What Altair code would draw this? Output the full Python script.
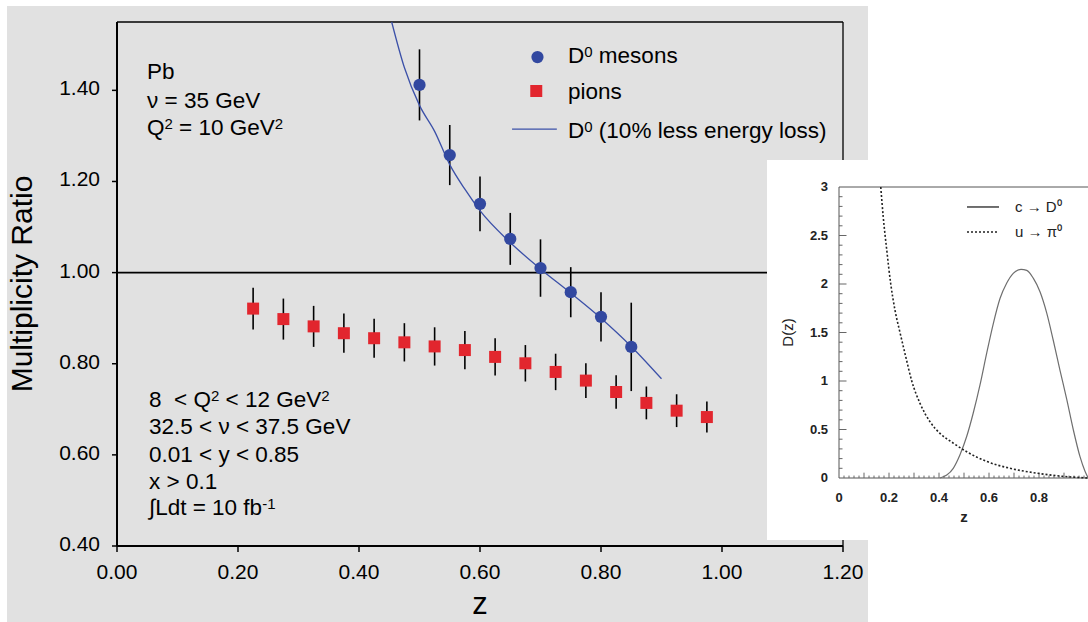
import altair as alt
import pandas as pd

# ---------------- data ----------------
# main panel: D0 mesons
d0_z = [0.50, 0.55, 0.60, 0.65, 0.70, 0.75, 0.80, 0.85]
d0_ratio = [1.412, 1.258, 1.151, 1.074, 1.010, 0.957, 0.903, 0.837]
d0_err = [0.078, 0.066, 0.060, 0.057, 0.063, 0.055, 0.054, 0.097]

# main panel: pions
pion_z = [0.225, 0.275, 0.325, 0.375, 0.425, 0.475, 0.525, 0.575,
          0.625, 0.675, 0.725, 0.775, 0.825, 0.875, 0.925, 0.975]
pion_ratio = [0.921, 0.898, 0.882, 0.867, 0.856, 0.847, 0.838, 0.830,
              0.815, 0.801, 0.782, 0.763, 0.738, 0.714, 0.697, 0.683]
pion_err = [0.046, 0.045, 0.045, 0.043, 0.043, 0.042, 0.042, 0.042,
            0.041, 0.040, 0.040, 0.038, 0.037, 0.036, 0.036, 0.034]

# main panel: D0 curve with 10% less energy loss
eloss_z = [0.454, 0.475, 0.50, 0.525, 0.55, 0.575, 0.60, 0.65, 0.70, 0.75, 0.80, 0.85, 0.90]
eloss_ratio = [1.55, 1.45, 1.367, 1.31, 1.237, 1.183, 1.136, 1.066, 1.008, 0.955, 0.90, 0.838, 0.767]

x_ticks = [0.0, 0.2, 0.4, 0.6, 0.8, 1.0, 1.2]
x_tick_labels = ["0.00", "0.20", "0.40", "0.60", "0.80", "1.00", "1.20"]
y_ticks = [0.4, 0.6, 0.8, 1.0, 1.2, 1.4]
y_tick_labels = ["0.40", "0.60", "0.80", "1.00", "1.20", "1.40"]

# text lines as (segment, is_superscript)
top_lines = [[("Pb", False)],
             [("\u03bd = 35 GeV", False)],
             [("Q", False), ("2", True), (" = 10 GeV", False), ("2", True)]]
cut_lines = [[("8\u00a0 < Q", False), ("2", True), (" < 12 GeV", False), ("2", True)],
             [("32.5 < \u03bd < 37.5 GeV", False)],
             [("0.01 < y < 0.85", False)],
             [("x > 0.1", False)],
             [("\u222bLdt = 10 fb", False), ("-1", True)]]
legend_lines = [[("D", False), ("0", True), (" mesons", False)],
                [("pions", False)],
                [("D", False), ("0", True), (" (10% less energy loss)", False)]]

# inset: fragmentation functions
frag_pi_z = [0.167, 0.177, 0.191, 0.207, 0.224, 0.244, 0.267, 0.291, 0.324, 0.364,
             0.404, 0.457, 0.511, 0.591, 0.684, 0.791, 0.897, 0.997]
frag_pi_D = [3.0, 2.69, 2.35, 2.0, 1.73, 1.50, 1.25, 1.0, 0.77, 0.58,
             0.46, 0.36, 0.27, 0.17, 0.10, 0.05, 0.017, 0.0]
frag_c_z = [0.404, 0.431, 0.457, 0.484, 0.511, 0.537, 0.564, 0.591, 0.617, 0.644,
            0.671, 0.697, 0.728, 0.751, 0.777, 0.804, 0.831, 0.857, 0.884, 0.911,
            0.937, 0.964, 0.984, 0.997]
frag_c_D = [0.0, 0.03, 0.10, 0.24, 0.43, 0.67, 0.96, 1.29, 1.59, 1.85,
            2.01, 2.11, 2.15, 2.14, 2.06, 1.92, 1.70, 1.42, 1.11, 0.81,
            0.50, 0.22, 0.07, 0.0]
inset_x_ticks = [0, 0.2, 0.4, 0.6, 0.8]
inset_x_labels = ["0", "0.2", "0.4", "0.6", "0.8"]
inset_y_ticks = [0, 0.5, 1, 1.5, 2, 2.5, 3]
inset_y_labels = ["0", "0.5", "1", "1.5", "2", "2.5", "3"]
inset_legend = ["c \u2192 D\u2070", "u \u2192 \u03c0\u2070"]

# ---------------- styling ----------------
FONT = "Liberation Sans"
BLUE = "#3248A0"
LINEBLUE = "#3B50A8"
RED = "#E2262E"
GRAY_BG = "#E1E1E1"
INK = "#222222"
TXT = 22.5
SUP = 15
SUP_DY = -6

# plot area = main frame: left 117, top 22, width 726, height 524
PAD = {"left": 117, "top": 22, "right": 245, "bottom": 76}
W, H = 726, 524
PX_X = W / 1.2      # pixels per z unit (main)
PX_Y = H / 1.15     # pixels per ratio unit (main)

X_MAIN = alt.Scale(domain=[0, 1.2], nice=False, zero=False)
Y_MAIN = alt.Scale(domain=[0.4, 1.55], nice=False, zero=False)
X_IN = alt.Scale(domain=[0, 1.0], range=[722, 972], nice=False, zero=False)
Y_IN = alt.Scale(domain=[0, 3.0], range=[456, 165], nice=False, zero=False)

# Liberation Sans (Arial metrics) advance widths, em units
ADV = {' ': .278, '\u00a0': .278, 'Q': .778, '=': .584, '0': .556, '1': .556,
       '2': .556, '3': .556, '5': .556, '7': .556, '8': .556, '.': .278,
       'G': .778, 'e': .556, 'V': .667, '<': .584, '>': .584, 'D': .722,
       'm': .833, 's': .5, 'o': .556, 'n': .556, '(': .333, ')': .333,
       '%': .889, 'l': .222, 'r': .333, 'g': .556, 'y': .5, '\u222b': .274,
       'L': .556, 'd': .556, 't': .278, 'f': .278, 'b': .556, '-': .333,
       'P': .667, 'p': .556, 'i': .222, 'x': .5, '\u03bd': .5}


def text_width(s, size):
    return sum(ADV.get(c, .556) for c in s) * size


def layout(lines, xs, ys):
    base, sup = [], []
    for segs, x, y in zip(lines, xs, ys):
        cur = 0.0
        for txt, is_sup in segs:
            size = SUP if is_sup else TXT
            core = txt.strip(' ')
            cur += (len(txt) - len(txt.lstrip(' '))) * ADV[' '] * size
            (sup if is_sup else base).append({"x": x + cur / PX_X, "y": y, "t": core})
            cur += text_width(core, size)
            cur += (len(txt) - len(txt.rstrip(' '))) * ADV[' '] * size
    return pd.DataFrame(base), pd.DataFrame(sup)


def ex(field, scale):
    return alt.X(field, type="quantitative", scale=scale, axis=None)


def ey(field, scale):
    return alt.Y(field, type="quantitative", scale=scale, axis=None)


def text_layers(base_df, sup_df):
    b = alt.Chart(base_df).mark_text(align="left", baseline="alphabetic", font=FONT,
                                     fontSize=TXT, color="black").encode(
        x=ex("x", X_MAIN), y=ey("y", Y_MAIN), text="t:N")
    s = alt.Chart(sup_df).mark_text(align="left", baseline="alphabetic", font=FONT,
                                    fontSize=SUP, dy=SUP_DY, color="black").encode(
        x=ex("x", X_MAIN), y=ey("y", Y_MAIN), text="t:N")
    return [b, s]


one = pd.DataFrame({"a": [0]})

# ---------------- main panel ----------------
d0 = pd.DataFrame({"z": d0_z, "r": d0_ratio,
                   "lo": [r - e for r, e in zip(d0_ratio, d0_err)],
                   "hi": [r + e for r, e in zip(d0_ratio, d0_err)]})
pi = pd.DataFrame({"z": pion_z, "r": pion_ratio,
                   "lo": [r - e for r, e in zip(pion_ratio, pion_err)],
                   "hi": [r + e for r, e in zip(pion_ratio, pion_err)]})
eloss = pd.DataFrame({"z": eloss_z, "r": eloss_ratio})

# white margins around the grey panel (chart background is grey)
margin_left = alt.Chart(one).mark_rect(color="white").encode(
    x=alt.value(-117), x2=alt.value(-110), y=alt.value(-22), y2=alt.value(600))
margin_top = alt.Chart(one).mark_rect(color="white").encode(
    x=alt.value(-117), x2=alt.value(971), y=alt.value(-22), y2=alt.value(-16))
margin_right = alt.Chart(one).mark_rect(color="white").encode(
    x=alt.value(751), x2=alt.value(971), y=alt.value(-22), y2=alt.value(600))

# frame: thin top/right, thick left/bottom axis lines
frame_df = pd.DataFrame({"x": [0.0, 1.2], "x2": [1.2, 1.2],
                         "y": [1.55, 0.4], "y2": [1.55, 1.55]})
frame = alt.Chart(frame_df).mark_rule(color="black", strokeWidth=1.3).encode(
    x=ex("x", X_MAIN), x2="x2:Q", y=ey("y", Y_MAIN), y2="y2:Q")
axes_df = pd.DataFrame({"x": [0.0, 0.0], "x2": [0.0, 1.2],
                        "y": [0.4, 0.4], "y2": [1.55, 0.4]})
axis_lines = alt.Chart(axes_df).mark_rule(color="black", strokeWidth=2).encode(
    x=ex("x", X_MAIN), x2="x2:Q", y=ey("y", Y_MAIN), y2="y2:Q")

xt_df = pd.DataFrame({"x": x_ticks, "y": [0.4 - 6 / PX_Y] * len(x_ticks),
                      "y2": [0.4] * len(x_ticks), "t": x_tick_labels})
x_tick_marks = alt.Chart(xt_df).mark_rule(color="black", strokeWidth=1.5).encode(
    x=ex("x", X_MAIN), y=ey("y", Y_MAIN), y2="y2:Q")
x_tick_text = alt.Chart(xt_df).mark_text(
    align="center", baseline="alphabetic", dy=33 - 6, font=FONT, fontSize=21,
    color="black").encode(x=ex("x", X_MAIN), y=ey("y", Y_MAIN), text="t:N")

yt_df = pd.DataFrame({"x": [-5 / PX_X] * len(y_ticks), "x2": [0.0] * len(y_ticks),
                      "y": y_ticks, "t": y_tick_labels})
y_tick_marks = alt.Chart(yt_df).mark_rule(color="black", strokeWidth=1.5).encode(
    x=ex("x", X_MAIN), x2="x2:Q", y=ey("y", Y_MAIN))
y_tick_text = alt.Chart(yt_df).mark_text(
    align="right", baseline="middle", dx=-12, dy=-1, font=FONT, fontSize=21,
    color="black").encode(x=ex("x", X_MAIN), y=ey("y", Y_MAIN), text="t:N")

y_title = alt.Chart(pd.DataFrame({"x": [-0.1397], "y": [0.975],
                                  "t": ["Multiplicity Ratio"]})).mark_text(
    align="center", baseline="alphabetic", angle=270, font=FONT, fontSize=30,
    color="black").encode(x=ex("x", X_MAIN), y=ey("y", Y_MAIN), text="t:N")
x_title = alt.Chart(pd.DataFrame({"x": [0.6], "y": [0.2508], "t": ["z"]})).mark_text(
    align="center", baseline="alphabetic", font=FONT, fontSize=31,
    color="black").encode(x=ex("x", X_MAIN), y=ey("y", Y_MAIN), text="t:N")

unity = alt.Chart(pd.DataFrame({"x": [0.0], "x2": [1.2], "y": [1.0]})).mark_rule(
    color="black", strokeWidth=1.6).encode(
    x=ex("x", X_MAIN), x2="x2:Q", y=ey("y", Y_MAIN))

d0_err_l = alt.Chart(d0).mark_rule(color="black", strokeWidth=1.6).encode(
    x=ex("z", X_MAIN), y=ey("lo", Y_MAIN), y2="hi:Q")
pi_err_l = alt.Chart(pi).mark_rule(color="black", strokeWidth=1.6).encode(
    x=ex("z", X_MAIN), y=ey("lo", Y_MAIN), y2="hi:Q")

eloss_l = alt.Chart(eloss).mark_line(color=LINEBLUE, strokeWidth=1.3,
                                     interpolate="monotone").encode(
    x=ex("z", X_MAIN), y=ey("r", Y_MAIN), order="z:Q")

d0_pts = alt.Chart(d0).mark_circle(color=BLUE, size=150, opacity=1).encode(
    x=ex("z", X_MAIN), y=ey("r", Y_MAIN))
pi_pts = alt.Chart(pi).mark_square(color=RED, size=144, opacity=1).encode(
    x=ex("z", X_MAIN), y=ey("r", Y_MAIN))

# legend
leg_circle = alt.Chart(pd.DataFrame({"x": [0.695], "y": [1.473]})).mark_circle(
    color=BLUE, size=150, opacity=1).encode(x=ex("x", X_MAIN), y=ey("y", Y_MAIN))
leg_square = alt.Chart(pd.DataFrame({"x": [0.693], "y": [1.3986]})).mark_square(
    color=RED, size=144, opacity=1).encode(x=ex("x", X_MAIN), y=ey("y", Y_MAIN))
leg_line = alt.Chart(pd.DataFrame({"x": [0.653], "x2": [0.727], "y": [1.315]})).mark_rule(
    color=LINEBLUE, strokeWidth=1.3).encode(x=ex("x", X_MAIN), x2="x2:Q", y=ey("y", Y_MAIN))

leg_base, leg_sup = layout(legend_lines, [0.7455] * 3, [1.459, 1.382, 1.2965])
top_base, top_sup = layout(top_lines, [0.0496] * 3, [1.4249, 1.3613, 1.302])
cut_base, cut_sup = layout(cut_lines, [0.0529] * 5, [0.705, 0.6458, 0.5843, 0.5251, 0.468])

main = alt.layer(margin_left, margin_top, margin_right, frame, unity, axis_lines,
                 x_tick_marks, y_tick_marks, x_tick_text, y_tick_text, y_title, x_title,
                 d0_err_l, pi_err_l, eloss_l, d0_pts, pi_pts,
                 leg_circle, leg_square, leg_line,
                 *text_layers(leg_base, leg_sup),
                 *text_layers(top_base, top_sup),
                 *text_layers(cut_base, cut_sup))

# ---------------- inset ----------------
inset_bg = alt.Chart(one).mark_rect(color="white").encode(
    x=alt.value(650), x2=alt.value(971), y=alt.value(138), y2=alt.value(518))

in_frame_df = pd.DataFrame({"x": [0.0, 0.0, 0.0], "x2": [0.0, 1.0, 1.0],
                            "y": [0.0, 0.0, 3.0], "y2": [3.0, 0.0, 3.0]})
in_frame = alt.Chart(in_frame_df).mark_rule(color="#555555", strokeWidth=1).encode(
    x=ex("x", X_IN), x2="x2:Q", y=ey("y", Y_IN), y2="y2:Q")

# inward tick marks of the inset axes
ytick_vals = [round(0.1 * i, 2) for i in range(1, 30)]
ytick_df = pd.DataFrame({"y": ytick_vals, "x": [0.0] * len(ytick_vals),
                         "x2": [0.03 if abs(v * 2 - round(v * 2)) < 1e-6 else 0.014
                                for v in ytick_vals]})
in_yticks = alt.Chart(ytick_df).mark_rule(color="#666666", strokeWidth=1).encode(
    x=ex("x", X_IN), x2="x2:Q", y=ey("y", Y_IN))
xtick_vals = [round(0.02 * i, 3) for i in range(1, 50)]
xtick_df = pd.DataFrame({"x": xtick_vals, "y": [0.0] * len(xtick_vals),
                         "y2": [0.055 if abs(v * 10 - round(v * 10)) < 1e-6 else 0.025
                                for v in xtick_vals]})
in_xticks = alt.Chart(xtick_df).mark_rule(color="#666666", strokeWidth=1).encode(
    x=ex("x", X_IN), y=ey("y", Y_IN), y2="y2:Q")

in_ylab = alt.Chart(pd.DataFrame({"x": [0.0] * len(inset_y_ticks), "y": inset_y_ticks,
                                  "t": inset_y_labels})).mark_text(
    align="right", baseline="middle", dx=-11, font=FONT, fontSize=13,
    fontWeight="bold", color=INK).encode(
    x=ex("x", X_IN), y=ey("y", Y_IN), text="t:N")
in_xlab = alt.Chart(pd.DataFrame({"x": inset_x_ticks, "y": [0.0] * len(inset_x_ticks),
                                  "t": inset_x_labels})).mark_text(
    align="center", baseline="middle", dy=20, font=FONT, fontSize=13,
    fontWeight="bold", color=INK).encode(
    x=ex("x", X_IN), y=ey("y", Y_IN), text="t:N")
in_ytitle = alt.Chart(pd.DataFrame({"x": [-0.184], "y": [1.5], "t": ["D(z)"]})).mark_text(
    align="center", baseline="alphabetic", angle=270, font=FONT, fontSize=15,
    color=INK).encode(x=ex("x", X_IN), y=ey("y", Y_IN), text="t:N")
in_xtitle = alt.Chart(pd.DataFrame({"x": [0.5], "y": [-0.4536], "t": ["z"]})).mark_text(
    align="center", baseline="alphabetic", font=FONT, fontSize=15, fontWeight="bold",
    color=INK).encode(x=ex("x", X_IN), y=ey("y", Y_IN), text="t:N")

c_curve = alt.Chart(pd.DataFrame({"z": frag_c_z, "D": frag_c_D})).mark_line(
    color="#6E6E6E", strokeWidth=1.2, interpolate="monotone").encode(
    x=ex("z", X_IN), y=ey("D", Y_IN), order="z:Q")
pi_curve = alt.Chart(pd.DataFrame({"z": frag_pi_z, "D": frag_pi_D})).mark_line(
    color=INK, strokeWidth=1.6, strokeDash=[2, 2], interpolate="monotone").encode(
    x=ex("z", X_IN), y=ey("D", Y_IN), order="z:Q")

in_leg_solid = alt.Chart(pd.DataFrame({"x": [0.512], "x2": [0.64], "y": [2.794]})).mark_rule(
    color="#333333", strokeWidth=1.4).encode(x=ex("x", X_IN), x2="x2:Q", y=ey("y", Y_IN))
in_leg_dot = alt.Chart(pd.DataFrame({"x": [0.512], "x2": [0.64], "y": [2.536]})).mark_rule(
    color=INK, strokeWidth=1.6, strokeDash=[2, 2]).encode(
    x=ex("x", X_IN), x2="x2:Q", y=ey("y", Y_IN))
in_leg_text = alt.Chart(pd.DataFrame({"x": [0.704, 0.704], "y": [2.794, 2.536],
                                      "t": inset_legend})).mark_text(
    align="left", baseline="middle", font=FONT, fontSize=15, color=INK).encode(
    x=ex("x", X_IN), y=ey("y", Y_IN), text="t:N")

inset = alt.layer(inset_bg, in_frame, in_yticks, in_xticks, c_curve, pi_curve,
                  in_leg_solid, in_leg_dot, in_leg_text, in_ylab, in_xlab,
                  in_ytitle, in_xtitle)

chart = alt.layer(main, inset).resolve_scale(
    x="independent", y="independent"
).properties(
    width=W, height=H, padding=PAD,
    autosize=alt.AutoSizeParams(type="none"),
    background=GRAY_BG,
).configure_view(stroke=None)

chart.save("out.html", embed_options={"renderer": "svg", "actions": False})
